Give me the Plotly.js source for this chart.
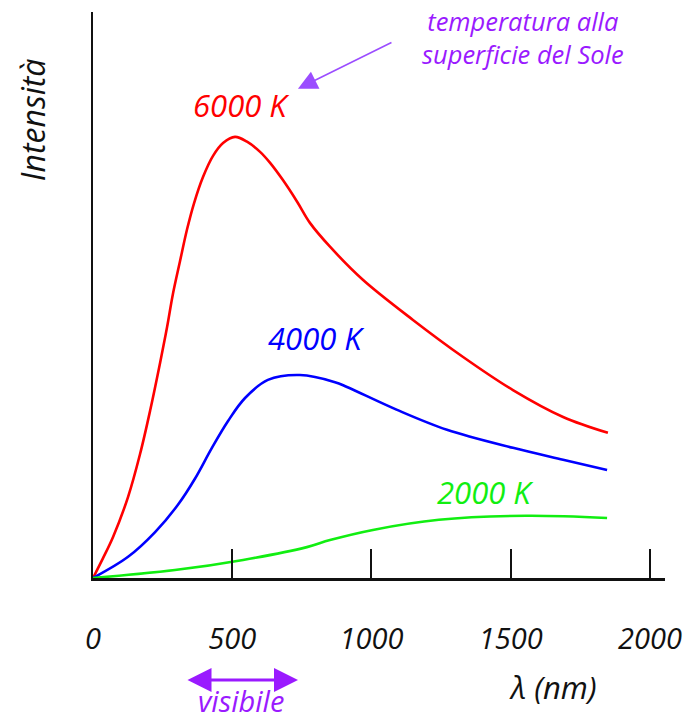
<!DOCTYPE html>
<html>
<head>
<meta charset="utf-8">
<script src="https://cdn.plot.ly/plotly-3.0.1.min.js"></script>
<style>html,body{margin:0;padding:0;background:#fff;}</style>
</head>
<body>
<div id="chart" style="width:684px;height:720px;"></div>
<script>
// wavelength (nm) and relative intensity
const x6000 = [0, 36, 72, 126, 169, 205, 241, 266, 287, 312, 338, 363, 395, 431, 467, 510, 553, 600, 636, 682, 733, 779, 851, 969, 1149, 1329, 1508, 1688, 1849];
const y6000 = [0, 4.5, 9.3, 18.4, 28.1, 37.9, 48.8, 56.9, 64.4, 71.7, 79.1, 85.0, 90.9, 95.7, 98.6, 100.0, 98.9, 96.6, 94.1, 90.2, 85.3, 80.5, 75.1, 67.6, 58.5, 50.1, 42.6, 36.5, 32.9];
const x4000 = [0, 126, 223, 305, 366, 427, 485, 546, 628, 743, 869, 912, 1092, 1271, 1508, 1688, 1846];
const y4000 = [0, 4.8, 10.4, 16.6, 22.5, 29.5, 35.6, 40.8, 44.9, 46.0, 44.4, 43.3, 38.1, 33.6, 29.5, 26.8, 24.5];
const x2000 = [0, 294, 539, 768, 851, 1005, 1242, 1555, 1846];
const y2000 = [0, 1.8, 4.1, 7.0, 8.6, 10.9, 13.2, 14.1, 13.6];
const tickVals = [0, 500, 1000, 1500, 2000];
const tickText = ['0', '500', '1000', '1500', '2000'];
const seriesNames = ['6000 K', '4000 K', '2000 K'];

const FONT = 'Open Sans, Noto Sans, sans-serif';
const PURPLE = '#9a1aff';

const traces = [
  {x: x6000, y: y6000, name: seriesNames[0], mode: 'lines', line: {color: '#ff0000', width: 2.6, shape: 'spline', smoothing: 1}},
  {x: x4000, y: y4000, name: seriesNames[1], mode: 'lines', line: {color: '#0000ff', width: 2.6, shape: 'spline', smoothing: 1}},
  {x: x2000, y: y2000, name: seriesNames[2], mode: 'lines', line: {color: '#11ee11', width: 2.6, shape: 'spline', smoothing: 1}}
];

function txt(x, y, text, size, color, extra) {
  return Object.assign({xref: 'paper', yref: 'paper', x: x, y: y, xanchor: 'center', yanchor: 'middle',
    text: text, showarrow: false, font: {family: FONT, size: size, color: color, style: 'italic'}}, extra || {});
}

const layout = {
  width: 684, height: 720,
  margin: {l: 93, r: 19, t: 12, b: 142},
  paper_bgcolor: '#ffffff', plot_bgcolor: '#ffffff',
  showlegend: false,
  xaxis: {
    range: [0, 2054], showgrid: false, zeroline: false,
    showline: true, linecolor: '#111', linewidth: 2.5,
    tickmode: 'array', tickvals: tickVals, ticktext: tickText,
    ticks: 'inside', ticklen: 29, tickwidth: 2, tickcolor: '#111',
    ticklabelstandoff: 34,
    tickfont: {family: FONT, size: 29, color: '#111', style: 'italic'},
    fixedrange: true
  },
  yaxis: {
    range: [0, 128.3], showgrid: false, zeroline: false,
    showline: true, linecolor: '#111', linewidth: 2.5,
    showticklabels: false, ticks: '', fixedrange: true
  },
  annotations: [
    {x: 535, y: 107.3, xanchor: 'center', yanchor: 'middle', text: seriesNames[0], showarrow: false, font: {family: FONT, size: 31, color: '#ff0000', style: 'italic'}},
    {x: 804, y: 54.4, xanchor: 'center', yanchor: 'middle', text: seriesNames[1], showarrow: false, font: {family: FONT, size: 31, color: '#0000ff', style: 'italic'}},
    {x: 1411, y: 19.5, xanchor: 'center', yanchor: 'middle', text: seriesNames[2], showarrow: false, font: {family: FONT, size: 31, color: '#11ee11', style: 'italic'}},
    txt(0.752, 0.955, 'temperatura alla<br>superficie del Sole', 25.5, PURPLE, {align: 'center'}),
    {x: 736, y: 110.9, xref: 'x', yref: 'y', text: '', showarrow: true, arrowhead: 2, arrowsize: 2.4, arrowwidth: 1.6,
     arrowcolor: '#9b4dff', ax: 95, ay: -47},
    {xref: 'paper', yref: 'paper', x: 0.3584, y: -0.1802, ax: -112, ay: 0, text: '', showarrow: true, arrowhead: 2, arrowside: 'end+start',
     arrowsize: 1.6, arrowwidth: 3, arrowcolor: PURPLE},
    txt(0.2587, -0.2173, 'visibile', 29, PURPLE),
    txt(0.804, -0.1925, 'λ (nm)', 31, '#111'),
    txt(-0.1066, 0.809, 'Intensità', 32, '#111', {textangle: -90})
  ]
};

Plotly.newPlot('chart', traces, layout, {displayModeBar: false, staticPlot: true});
</script>
</body>
</html>
